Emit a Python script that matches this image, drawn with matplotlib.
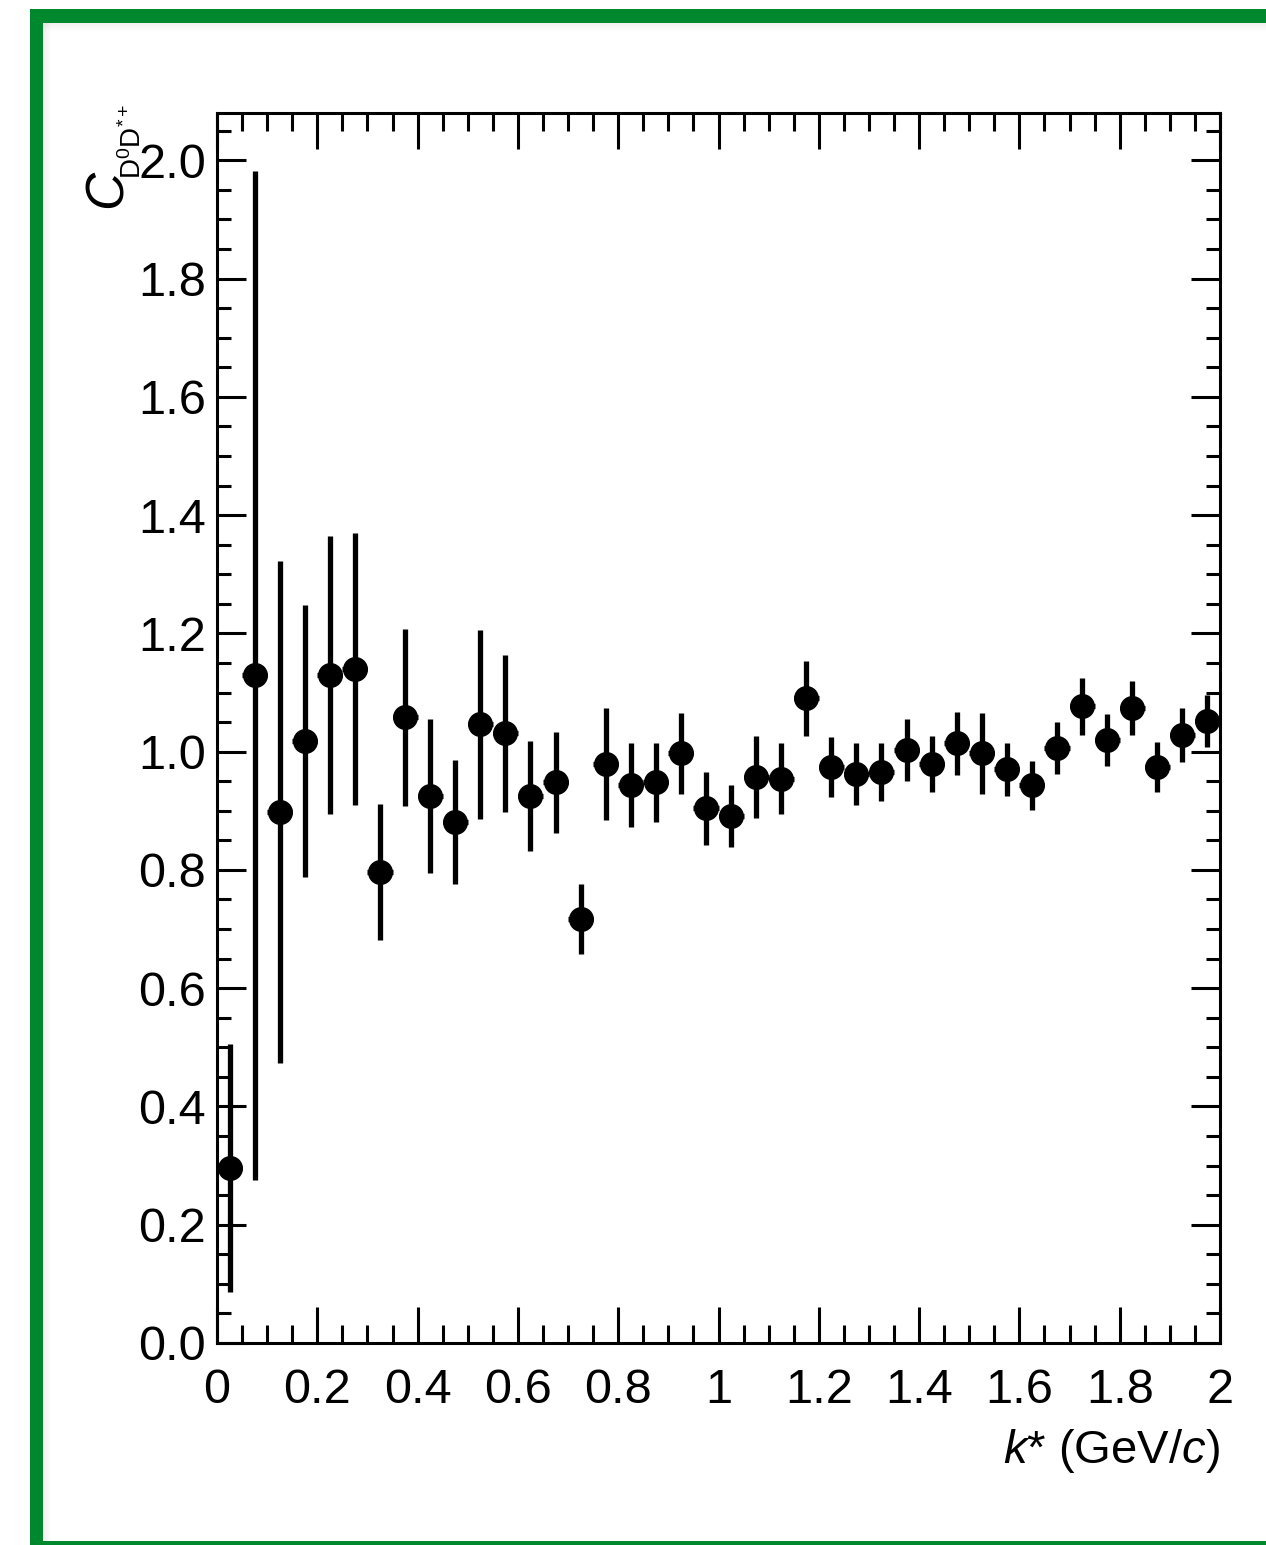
import matplotlib
matplotlib.use("Agg")
import matplotlib.pyplot as plt
from matplotlib.patches import Rectangle
from matplotlib.ticker import MultipleLocator, FixedLocator

plt.rcParams['font.family'] = ['Liberation Sans', 'DejaVu Sans']
plt.rcParams['mathtext.fontset'] = 'custom'
plt.rcParams['mathtext.rm'] = 'Liberation Sans'
plt.rcParams['mathtext.it'] = 'Liberation Sans:italic'
plt.rcParams['mathtext.bf'] = 'Liberation Sans:bold'

# bin centres (GeV/c), half bin width 0.025
kstar = [0.025, 0.075, 0.125, 0.175, 0.225, 0.275, 0.325, 0.375, 0.425, 0.475,
         0.525, 0.575, 0.625, 0.675, 0.725, 0.775, 0.825, 0.875, 0.925, 0.975,
         1.025, 1.075, 1.125, 1.175, 1.225, 1.275, 1.325, 1.375, 1.425, 1.475,
         1.525, 1.575, 1.625, 1.675, 1.725, 1.775, 1.825, 1.875, 1.925, 1.975]
corr = [0.296, 1.129, 0.898, 1.018, 1.129, 1.139, 0.796, 1.058, 0.925, 0.881,
        1.046, 1.031, 0.925, 0.948, 0.717, 0.979, 0.943, 0.948, 0.997, 0.904,
        0.891, 0.957, 0.954, 1.090, 0.974, 0.962, 0.965, 1.003, 0.979, 1.014,
        0.997, 0.970, 0.943, 1.006, 1.077, 1.019, 1.074, 0.974, 1.028, 1.052]
corr_err = [0.210, 0.853, 0.425, 0.230, 0.235, 0.230, 0.115, 0.150, 0.130, 0.105,
            0.160, 0.133, 0.093, 0.085, 0.060, 0.095, 0.071, 0.067, 0.068, 0.062,
            0.053, 0.069, 0.060, 0.064, 0.050, 0.053, 0.049, 0.052, 0.047, 0.053,
            0.068, 0.045, 0.042, 0.044, 0.048, 0.044, 0.045, 0.042, 0.045, 0.044]
half_bin = [0.025] * len(kstar)

x_ticks = [0, 0.2, 0.4, 0.6, 0.8, 1, 1.2, 1.4, 1.6, 1.8, 2]
x_tick_labels = ['0', '0.2', '0.4', '0.6', '0.8', '1', '1.2', '1.4', '1.6', '1.8', '2']
y_ticks = [0.0, 0.2, 0.4, 0.6, 0.8, 1.0, 1.2, 1.4, 1.6, 1.8, 2.0]
y_tick_labels = ['0.0', '0.2', '0.4', '0.6', '0.8', '1.0', '1.2', '1.4', '1.6', '1.8', '2.0']

W, H = 1266, 1545
fig = plt.figure(figsize=(W / 100, H / 100), dpi=100)
fig.patch.set_facecolor('white')

# green frame with soft shadow
green = '#00882e'
for i in range(8):
    a = 0.06 * (1 - i / 8)
    fig.patches.append(Rectangle((43 / W + i / W, 0), 1 / W, (H - 23) / H,
                                 transform=fig.transFigure, color='black', alpha=a, lw=0))
    fig.patches.append(Rectangle((43 / W, (H - 24 - i) / H), 1, 1 / H,
                                 transform=fig.transFigure, color='black', alpha=a, lw=0))
fig.patches.append(Rectangle((30 / W, -0.1), 13 / W, 1.1 - 9 / H,
                             transform=fig.transFigure, color=green, lw=0))
fig.patches.append(Rectangle((30 / W, (H - 23) / H), 1, 14 / H,
                             transform=fig.transFigure, color=green, lw=0))
fig.patches.append(Rectangle((30 / W, 0), 1, 4 / H,
                             transform=fig.transFigure, color=green, lw=0))

ax = fig.add_axes([217 / W, 1 - 1343 / H, (1220 - 217) / W, (1343 - 113) / H])
ax.errorbar(kstar, corr, yerr=corr_err, xerr=half_bin, fmt='o', color='black',
            markersize=17, elinewidth=3.8, capsize=0, zorder=3)

ax.set_xlim(0, 2)
ax.set_ylim(0, 2.08)
ax.xaxis.set_major_locator(FixedLocator(x_ticks))
ax.set_xticklabels(x_tick_labels)
ax.yaxis.set_major_locator(FixedLocator(y_ticks))
ax.set_yticklabels(y_tick_labels)
ax.xaxis.set_minor_locator(MultipleLocator(0.05))
ax.yaxis.set_minor_locator(MultipleLocator(0.05))

for s in ax.spines.values():
    s.set_linewidth(2.2)
ax.tick_params(axis='both', which='both', direction='in', top=True, right=True, width=2.2)
ax.tick_params(axis='x', which='major', length=26, labelsize=35, pad=18)
ax.tick_params(axis='x', which='minor', length=13)
ax.tick_params(axis='y', which='major', length=21, labelsize=35, pad=8)
ax.tick_params(axis='y', which='minor', length=10)

ax.set_xlabel(r'$k$* (GeV/$c$)', fontsize=34, loc='right')
ax.xaxis.set_label_coords(1.0, -0.068)

# y title: large italic C with a smaller D0D*+ subscript, ROOT style
ax.text(-0.0947, 0.9228, 'C', style='italic', fontsize=38, rotation=90,
        rotation_mode='anchor', ha='left', va='baseline', transform=ax.transAxes)
ax.text(-0.0758, 0.946, r'$\mathrm{D^{0}D^{*+}}$', fontsize=20, rotation=90,
        rotation_mode='anchor', ha='left', va='baseline', transform=ax.transAxes)

fig.savefig('out.png', dpi=100)
